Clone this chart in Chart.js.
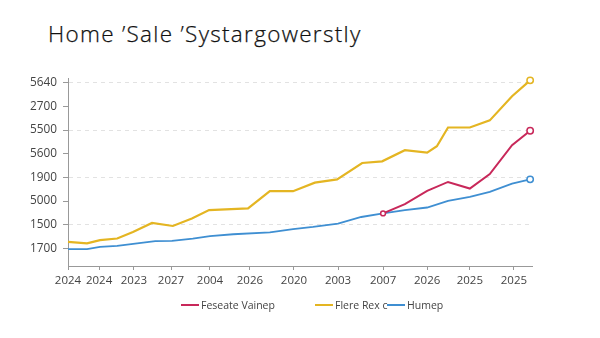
<!DOCTYPE html>
<html>
<head>
<meta charset="utf-8">
<script src="https://cdn.jsdelivr.net/npm/chart.js@4/dist/chart.umd.min.js"></script>
<style>
    body { margin: 0; background: #fff; font-family: "Open Sans", sans-serif; }
    #wrap { position: relative; width: 600px; height: 338px; overflow: hidden; }
    #title { position: absolute; left: 48px; top: 18px; font-size: 22.5px; font-weight: 300; color: #111; letter-spacing: 1.3px; white-space: nowrap; -webkit-text-stroke: 0.25px #111; }
    #chart { position: absolute; left: 0; top: 0; }
    .legend-item { position: absolute; top: 298px; display: flex; align-items: center; font-size: 10.5px; color: #444; white-space: nowrap; }
    .legend-item span.swatch { display: inline-block; width: 18px; height: 2px; margin-right: 2px; }
</style>
</head>
<body>
<div id="wrap">
    <div id="title">Home ’Sale ’Systargowerstly</div>
    <canvas id="chart" width="600" height="338"></canvas>
    <div id="legend"></div>
</div>
<script>
// Axis labels (the y labels sit on evenly spaced steps 0..7)
const yLabels = ['1700', '1500', '5000', '1900', '5600', '5500', '2700', '5640'];
const xLabels = ['2024', '2024', '2023', '2027', '2004', '2026', '2020', '2003', '2007', '2026', '2025', '2025'];
const xTickValues = [0, 6.7, 14.2, 22.2, 30.6, 39.2, 48.7, 58.2, 67.9, 77.4, 86.6, 96.1];

// Series: x along a 0..100 timeline, y in label steps
const seriesNames = ['Feseate Vainep', 'Flere Rex c', 'Humep'];

const redX = [67.9, 72.6, 77.4, 81.9, 86.6, 90.9, 95.7, 99.6];
const redY = [1.48, 1.87, 2.43, 2.81, 2.53, 3.14, 4.36, 4.97];

const yellowX = [0, 4.1, 6.9, 10.6, 14.0, 18.1, 22.6, 26.7, 30.4, 38.8, 43.5, 48.5, 53.2, 58.0, 63.4, 67.7, 72.6, 77.4, 79.5, 81.9, 86.6, 90.9, 95.7, 99.6];
const yellowY = [0.28, 0.22, 0.35, 0.42, 0.70, 1.08, 0.95, 1.27, 1.62, 1.69, 2.42, 2.42, 2.78, 2.92, 3.61, 3.68, 4.15, 4.05, 4.32, 5.11, 5.11, 5.41, 6.43, 7.10];

const blueX = [0, 4.1, 6.9, 10.6, 14.9, 18.8, 22.4, 26.9, 30.6, 35.6, 43.5, 48.5, 52.8, 58.2, 63.2, 67.9, 72.6, 77.4, 81.9, 86.6, 90.9, 95.7, 99.6];
const blueY = [-0.03, -0.03, 0.07, 0.11, 0.22, 0.31, 0.32, 0.42, 0.52, 0.60, 0.68, 0.82, 0.91, 1.05, 1.33, 1.48, 1.62, 1.73, 2.01, 2.18, 2.39, 2.74, 2.92];

const colors = ['#c8285a', '#e4b522', '#3f8fd2'];

function toPoints(xs, ys) {
    return xs.map((x, i) => ({ x: x, y: ys[i] }));
}

// only the ends get a ring marker
function endMarkers(len, withStart) {
    return (ctx) => {
        if (ctx.dataIndex === len - 1) return 3.2;
        if (withStart && ctx.dataIndex === 0) return 2.4;
        return 0;
    };
}

function makeDataset(i, xs, ys, width, withStart) {
    return {
        label: seriesNames[i],
        data: toPoints(xs, ys),
        borderColor: colors[i],
        borderWidth: width,
        clip: false,
        pointRadius: endMarkers(xs.length, withStart),
        pointBackgroundColor: '#fff',
        pointBorderColor: colors[i],
        pointBorderWidth: 1.5
    };
}

const ctx = document.getElementById('chart').getContext('2d');
const chart = new Chart(ctx, {
    type: 'line',
    data: {
        datasets: [
            makeDataset(0, redX, redY, 2, true),
            makeDataset(1, yellowX, yellowY, 2.2, false),
            makeDataset(2, blueX, blueY, 1.8, false)
        ]
    },
    options: {
        responsive: false,
        animation: false,
        tension: 0,
        layout: { padding: { left: 0, right: 68, top: 78, bottom: 50 } },
        plugins: {
            legend: { display: false },
            title: { display: false },
            tooltip: { enabled: false }
        },
        scales: {
            x: {
                type: 'linear',
                min: 0,
                max: 100,
                afterBuildTicks: (scale) => {
                    scale.ticks = xTickValues.map(v => ({ value: v }));
                },
                afterFit: (scale) => { scale.height = 22; },
                ticks: {
                    autoSkip: false,
                    maxRotation: 0,
                    padding: 4,
                    color: '#444',
                    font: { family: 'Open Sans', size: 11.5 },
                    callback: (value, index) => xLabels[index]
                },
                grid: {
                    drawOnChartArea: false,
                    drawTicks: true,
                    tickLength: 4,
                    tickColor: '#999'
                },
                border: { display: true, color: '#999', width: 1 }
            },
            y: {
                type: 'linear',
                min: -0.74,
                max: 7.2,
                afterBuildTicks: (scale) => {
                    scale.ticks = yLabels.map((l, i) => ({ value: i }));
                },
                afterFit: (scale) => { scale.width = 68; },
                ticks: {
                    padding: 6,
                    color: '#444',
                    font: { family: 'Open Sans', size: 11.8 },
                    callback: (value, index) => yLabels[index]
                },
                grid: {
                    drawTicks: true,
                    tickLength: 5,
                    tickColor: '#999',
                    color: (c) => (c.index % 2 === 1 ? '#e2e2e2' : 'rgba(0,0,0,0)'),
                    lineWidth: 1
                },
                border: { display: true, color: '#999', width: 1, dash: [4, 4] }
            }
        }
    }
});

// legend row under the axis
const legendSpots = [181, 315, 387];
const legendDiv = document.getElementById('legend');
seriesNames.forEach((name, i) => {
    const item = document.createElement('div');
    item.className = 'legend-item';
    item.style.left = legendSpots[i] + 'px';
    item.innerHTML = `<span class="swatch" style="background:${colors[i]}"></span>${name}`;
    legendDiv.appendChild(item);
});
</script>
</body>
</html>
